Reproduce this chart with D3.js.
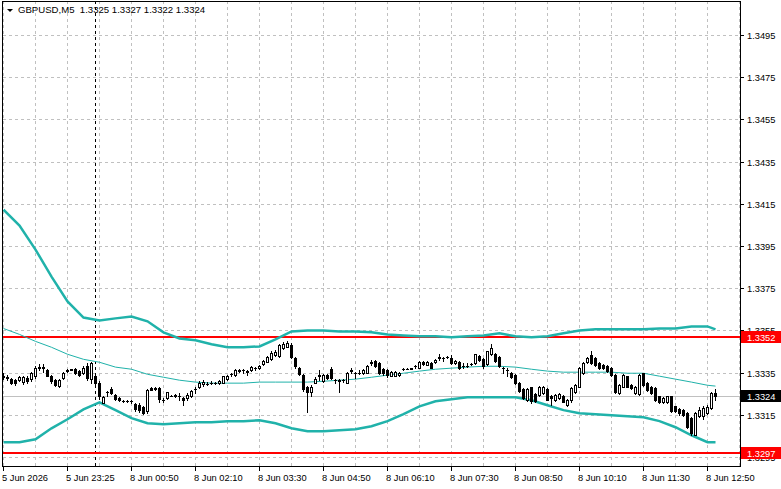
<!DOCTYPE html>
<html>
<head>
<meta charset="utf-8">
<script src="https://cdn.jsdelivr.net/npm/d3@7"></script>
<style>
  body { margin: 0; background: #fff; }
  svg { display: block; font-family: "Liberation Sans", Arial, sans-serif; }
</style>
</head>
<body>
<div id="chart"></div>
<script>
// Symbol / timeframe
const symbol = "GBPUSD,M5";

// 5 minute candles, [open, high, low, close]
const candles = [
  [1.33333,1.33347,1.33319,1.33330],[1.33327,1.33337,1.33316,1.33325],[1.33319,1.33325,1.33295,1.33300],
  [1.33316,1.33320,1.33292,1.33302],[1.33316,1.33335,1.33310,1.33327],[1.33305,1.33335,1.33298,1.33328],
  [1.33326,1.33332,1.33302,1.33308],[1.33319,1.33355,1.33310,1.33347],[1.33332,1.33379,1.33325,1.33370],
  [1.33370,1.33390,1.33360,1.33375],[1.33375,1.33389,1.33355,1.33372],[1.33360,1.33368,1.33332,1.33336],
  [1.33334,1.33338,1.33302,1.33308],[1.33316,1.33320,1.33285,1.33292],[1.33288,1.33320,1.33284,1.33316],
  [1.33325,1.33355,1.33320,1.33350],[1.33358,1.33368,1.33355,1.33360],[1.33363,1.33368,1.33360,1.33365],
  [1.33366,1.33370,1.33342,1.33347],[1.33358,1.33363,1.33332,1.33338],[1.33350,1.33380,1.33345,1.33374],
  [1.33380,1.33395,1.33316,1.33324],[1.33318,1.33402,1.33300,1.33395],[1.33335,1.33345,1.33295,1.33303],
  [1.33300,1.33310,1.33225,1.33237],[1.33208,1.33240,1.33205,1.33235],[1.33256,1.33265,1.33237,1.33259],
  [1.33272,1.33281,1.33250,1.33253],[1.33245,1.33248,1.33220,1.33224],[1.33229,1.33233,1.33215,1.33218],
  [1.33217,1.33219,1.33213,1.33216],[1.33216,1.33220,1.33213,1.33217],[1.33216,1.33218,1.33206,1.33214],
  [1.33202,1.33208,1.33170,1.33179],[1.33198,1.33205,1.33165,1.33174],[1.33189,1.33193,1.33153,1.33158],
  [1.33166,1.33274,1.33158,1.33269],[1.33279,1.33281,1.33266,1.33269],[1.33279,1.33282,1.33267,1.33270],
  [1.33279,1.33282,1.33213,1.33226],[1.33221,1.33230,1.33210,1.33222],[1.33229,1.33260,1.33226,1.33256],
  [1.33240,1.33244,1.33238,1.33241],[1.33242,1.33250,1.33236,1.33240],[1.33240,1.33253,1.33221,1.33241],
  [1.33229,1.33235,1.33198,1.33218],[1.33229,1.33253,1.33222,1.33245],[1.33237,1.33266,1.33234,1.33261],
  [1.33270,1.33282,1.33255,1.33272],[1.33280,1.33308,1.33276,1.33300],[1.33295,1.33315,1.33288,1.33305],
  [1.33294,1.33305,1.33290,1.33296],[1.33300,1.33308,1.33298,1.33301],[1.33300,1.33304,1.33295,1.33299],
  [1.33300,1.33314,1.33297,1.33310],[1.33303,1.33336,1.33300,1.33332],[1.33319,1.33338,1.33316,1.33332],
  [1.33342,1.33350,1.33332,1.33345],[1.33339,1.33368,1.33335,1.33363],[1.33359,1.33365,1.33353,1.33361],
  [1.33362,1.33368,1.33347,1.33364],[1.33355,1.33362,1.33340,1.33358],[1.33360,1.33379,1.33357,1.33375],
  [1.33372,1.33378,1.33363,1.33373],[1.33370,1.33386,1.33367,1.33382],[1.33390,1.33410,1.33386,1.33405],
  [1.33402,1.33430,1.33398,1.33424],[1.33415,1.33450,1.33410,1.33445],[1.33432,1.33455,1.33428,1.33448],
  [1.33430,1.33485,1.33425,1.33481],[1.33465,1.33495,1.33460,1.33486],[1.33473,1.33502,1.33470,1.33489],
  [1.33481,1.33490,1.33420,1.33426],[1.33418,1.33425,1.33370,1.33379],[1.33371,1.33377,1.33340,1.33344],
  [1.33339,1.33343,1.33265,1.33271],[1.33280,1.33286,1.33165,1.33256],[1.33256,1.33290,1.33240,1.33281],
  [1.33303,1.33328,1.33300,1.33320],[1.33335,1.33363,1.33316,1.33338],[1.33308,1.33345,1.33305,1.33339],
  [1.33339,1.33343,1.33320,1.33324],[1.33368,1.33375,1.33320,1.33324],[1.33313,1.33320,1.33300,1.33315],
  [1.33313,1.33318,1.33256,1.33310],[1.33314,1.33322,1.33305,1.33316],[1.33303,1.33352,1.33300,1.33347],
  [1.33358,1.33373,1.33347,1.33360],[1.33346,1.33355,1.33324,1.33348],[1.33348,1.33363,1.33344,1.33350],
  [1.33347,1.33368,1.33342,1.33363],[1.33350,1.33384,1.33347,1.33380],[1.33397,1.33410,1.33386,1.33400],
  [1.33405,1.33410,1.33375,1.33379],[1.33395,1.33400,1.33342,1.33347],[1.33366,1.33370,1.33340,1.33347],
  [1.33363,1.33368,1.33330,1.33339],[1.33336,1.33356,1.33332,1.33352],[1.33336,1.33357,1.33333,1.33352],
  [1.33337,1.33355,1.33333,1.33350],[1.33367,1.33370,1.33364,1.33368],[1.33369,1.33372,1.33366,1.33369],
  [1.33369,1.33373,1.33367,1.33370],[1.33382,1.33386,1.33372,1.33383],[1.33374,1.33406,1.33370,1.33402],
  [1.33402,1.33405,1.33387,1.33390],[1.33387,1.33403,1.33384,1.33399],[1.33395,1.33399,1.33370,1.33374],
  [1.33399,1.33415,1.33396,1.33410],[1.33420,1.33437,1.33412,1.33423],[1.33418,1.33422,1.33405,1.33419],
  [1.33425,1.33430,1.33418,1.33426],[1.33418,1.33435,1.33390,1.33395],[1.33395,1.33410,1.33392,1.33407],
  [1.33402,1.33407,1.33365,1.33371],[1.33380,1.33395,1.33374,1.33382],[1.33380,1.33395,1.33375,1.33381],
  [1.33390,1.33394,1.33387,1.33390],[1.33395,1.33440,1.33392,1.33437],[1.33429,1.33433,1.33406,1.33410],
  [1.33413,1.33418,1.33374,1.33379],[1.33390,1.33454,1.33386,1.33450],[1.33437,1.33485,1.33434,1.33465],
  [1.33439,1.33445,1.33402,1.33407],[1.33426,1.33430,1.33375,1.33379],[1.33370,1.33375,1.33350,1.33372],
  [1.33360,1.33370,1.33332,1.33362],[1.33350,1.33355,1.33323,1.33327],[1.33339,1.33343,1.33296,1.33300],
  [1.33300,1.33305,1.33256,1.33261],[1.33272,1.33276,1.33226,1.33230],[1.33220,1.33278,1.33215,1.33272],
  [1.33280,1.33284,1.33208,1.33216],[1.33248,1.33253,1.33210,1.33216],[1.33245,1.33286,1.33240,1.33282],
  [1.33255,1.33285,1.33250,1.33280],[1.33272,1.33276,1.33218,1.33221],[1.33240,1.33245,1.33198,1.33229],
  [1.33221,1.33250,1.33216,1.33245],[1.33229,1.33255,1.33224,1.33248],[1.33240,1.33245,1.33210,1.33213],
  [1.33198,1.33225,1.33193,1.33221],[1.33218,1.33280,1.33213,1.33276],[1.33256,1.33296,1.33252,1.33292],
  [1.33284,1.33375,1.33280,1.33371],[1.33347,1.33400,1.33343,1.33395],[1.33398,1.33423,1.33394,1.33418],
  [1.33434,1.33450,1.33390,1.33395],[1.33418,1.33425,1.33383,1.33387],[1.33395,1.33400,1.33367,1.33371],
  [1.33386,1.33390,1.33366,1.33371],[1.33382,1.33386,1.33354,1.33358],[1.33371,1.33375,1.33335,1.33339],
  [1.33339,1.33343,1.33252,1.33256],[1.33253,1.33296,1.33249,1.33292],[1.33284,1.33343,1.33280,1.33339],
  [1.33332,1.33336,1.33280,1.33284],[1.33292,1.33296,1.33272,1.33276],[1.33253,1.33288,1.33249,1.33284],
  [1.33248,1.33343,1.33244,1.33339],[1.33347,1.33350,1.33288,1.33292],[1.33300,1.33304,1.33265,1.33269],
  [1.33284,1.33288,1.33249,1.33253],[1.33276,1.33280,1.33214,1.33218],[1.33237,1.33241,1.33206,1.33210],
  [1.33209,1.33233,1.33205,1.33229],[1.33209,1.33241,1.33205,1.33237],[1.33237,1.33241,1.33162,1.33166],
  [1.33190,1.33194,1.33162,1.33166],[1.33179,1.33183,1.33148,1.33158],[1.33174,1.33178,1.33145,1.33150],
  [1.33158,1.33162,1.33088,1.33092],[1.33135,1.33140,1.33053,1.33064],[1.33056,1.33162,1.33052,1.33158],
  [1.33143,1.33185,1.33139,1.33174],[1.33143,1.33190,1.33130,1.33182],[1.33158,1.33195,1.33154,1.33187],
  [1.33182,1.33257,1.33178,1.33253],[1.33252,1.33272,1.33221,1.33240]
];

// Bollinger bands, sampled at these bar numbers
const bandBars = [0,4,8,12,16,20,24,28,32,36,40,44,48,52,56,60,64,68,72,76,80,84,88,92,96,
  100,104,108,112,116,120,124,128,132,136,140,144,148,152,156,160,164,168,172,176,178];
const upperBand = [1.34122,1.34047,1.33933,1.33805,1.33687,1.33611,1.33597,1.33607,1.33616,1.33593,
  1.33541,1.33512,1.33503,1.33484,1.33470,1.33470,1.33474,1.33507,1.33545,1.33550,1.33550,1.33545,
  1.33545,1.33541,1.33531,1.33526,1.33522,1.33522,1.33517,1.33522,1.33526,1.33536,1.33522,1.33517,
  1.33522,1.33536,1.33550,1.33555,1.33555,1.33555,1.33555,1.33559,1.33559,1.33569,1.33569,1.33555];
const middleBand = [1.33559,1.33531,1.33498,1.33470,1.33437,1.33413,1.33399,1.33376,1.33366,1.33342,
  1.33328,1.33314,1.33305,1.33300,1.33300,1.33300,1.33305,1.33305,1.33305,1.33305,1.33309,1.33314,
  1.33319,1.33328,1.33338,1.33347,1.33357,1.33366,1.33371,1.33376,1.33380,1.33380,1.33376,1.33366,
  1.33357,1.33352,1.33352,1.33352,1.33352,1.33347,1.33347,1.33333,1.33319,1.33305,1.33290,1.33286];
const lowerBand = [1.33020,1.33020,1.33034,1.33086,1.33129,1.33176,1.33209,1.33172,1.33134,1.33110,
  1.33105,1.33110,1.33115,1.33115,1.33120,1.33120,1.33124,1.33110,1.33086,1.33072,1.33072,1.33077,
  1.33082,1.33096,1.33120,1.33153,1.33190,1.33214,1.33224,1.33233,1.33233,1.33233,1.33233,1.33219,
  1.33195,1.33172,1.33157,1.33153,1.33148,1.33143,1.33138,1.33120,1.33091,1.33053,1.33020,1.33020];

// Axes
const priceTicks = [1.3495,1.3475,1.3455,1.3435,1.3415,1.3395,1.3375,1.3355,1.3335,1.3315,1.3295];
const timeLabels = ["5 Jun 2026","5 Jun 23:25","8 Jun 00:50","8 Jun 02:10","8 Jun 03:30","8 Jun 04:50",
  "8 Jun 06:10","8 Jun 07:30","8 Jun 08:50","8 Jun 10:10","8 Jun 11:30","8 Jun 12:50"];
const timeLabelBars = [0,16,32,48,64,80,96,112,128,144,160,176];
const gridBars = [0,8,16,24,32,40,48,56,64,72,80,88,96,104,112,120,128,136,144,152,160,168,176,184];

// Horizontal levels and day separator
const levels = [1.3352, 1.3297];
const separatorBars = [23];

const W = 781, H = 489;
const plotL = 3, plotR = 740, plotT = 1, plotB = 467;

const x = d3.scaleLinear().domain([0, 184.25]).range([plotL, plotR]);
const y = d3.scaleLinear().domain([1.3295, 1.3495]).range([457, 35]);
const px = i => Math.round(x(i));
const py = p => Math.round(y(p));

const svg = d3.select("#chart").append("svg")
  .attr("width", W).attr("height", H)
  .attr("shape-rendering", "crispEdges");

svg.append("defs").append("clipPath").attr("id", "clip")
  .append("rect").attr("x", plotL).attr("y", plotT).attr("width", plotR - plotL).attr("height", plotB - plotT);

const plot = svg.append("g").attr("clip-path", "url(#clip)");

// grid
plot.selectAll(".hgrid").data(priceTicks).join("line")
  .attr("x1", plotL).attr("x2", plotR)
  .attr("y1", d => py(d) + 0.5).attr("y2", d => py(d) + 0.5)
  .attr("stroke", "#c0c0c0").attr("stroke-dasharray", "3,3");
plot.selectAll(".vgrid").data(gridBars).join("line")
  .attr("x1", d => px(d) + 0.5).attr("x2", d => px(d) + 0.5)
  .attr("y1", plotT).attr("y2", plotB)
  .attr("stroke", "#c0c0c0").attr("stroke-dasharray", "3,3");

// period separator
plot.selectAll(".sep").data(separatorBars).join("line")
  .attr("x1", d => px(d) + 0.5).attr("x2", d => px(d) + 0.5)
  .attr("y1", plotT).attr("y2", plotB)
  .attr("stroke", "#000").attr("stroke-dasharray", "3,3");

// bid line
const last = candles[candles.length - 1];
plot.append("line")
  .attr("x1", plotL).attr("x2", plotR)
  .attr("y1", py(last[3]) + 0.5).attr("y2", py(last[3]) + 0.5)
  .attr("stroke", "#c0c0c0");

// red levels
plot.selectAll(".level").data(levels).join("line")
  .attr("x1", plotL).attr("x2", plotR)
  .attr("y1", d => py(d)).attr("y2", d => py(d))
  .attr("stroke", "#ff0000").attr("stroke-width", 2);

// bands
const bandLine = vals => d3.line()
  .x((d, i) => x(bandBars[i]) + 0.5)
  .y(d => y(d))(vals);
[[upperBand, 2.5], [middleBand, 1], [lowerBand, 2.5]].forEach(([vals, w]) => {
  plot.append("path")
    .attr("d", bandLine(vals))
    .attr("fill", "none")
    .attr("stroke", "#20b2aa")
    .attr("stroke-width", w)
    .attr("shape-rendering", "auto");
});

// candles
const cg = plot.selectAll(".candle").data(candles).join("g");
cg.append("line")
  .attr("x1", (d, i) => px(i) + 0.5).attr("x2", (d, i) => px(i) + 0.5)
  .attr("y1", d => py(d[1])).attr("y2", d => py(d[2]) + 1)
  .attr("stroke", "#000");
cg.each(function (d, i) {
  const g = d3.select(this);
  const X = px(i);
  const yo = py(d[0]), yc = py(d[3]);
  const t = Math.min(yo, yc), h = Math.abs(yo - yc);
  if (h === 0) {
    g.append("line").attr("x1", X - 1).attr("x2", X + 2)
      .attr("y1", t + 0.5).attr("y2", t + 0.5).attr("stroke", "#000");
  } else if (d[3] > d[0]) {
    g.append("rect").attr("x", X - 0.5).attr("y", t + 0.5)
      .attr("width", 2).attr("height", h)
      .attr("fill", "#fff").attr("stroke", "#000");
  } else {
    g.append("rect").attr("x", X - 1).attr("y", t)
      .attr("width", 3).attr("height", h + 1)
      .attr("fill", "#000");
  }
});

// frame
svg.append("rect")
  .attr("x", plotL - 0.5).attr("y", plotT + 0.5)
  .attr("width", plotR - plotL + 1).attr("height", plotB - plotT - 1)
  .attr("fill", "none").attr("stroke", "#000");

// price axis
const pa = svg.append("g");
pa.selectAll("line").data(priceTicks).join("line")
  .attr("x1", plotR).attr("x2", plotR + 4)
  .attr("y1", d => py(d) + 0.5).attr("y2", d => py(d) + 0.5)
  .attr("stroke", "#000");
pa.selectAll("text").data(priceTicks).join("text")
  .attr("x", 747).attr("y", d => py(d) + 3.5)
  .attr("font-size", 9.3).attr("fill", "#000")
  .text(d => d.toFixed(4));

// price labels for levels and bid
const tags = levels.map(v => ({ v: v, bg: "#ff0000" })).concat([{ v: last[3], bg: "#000" }]);
const tg = svg.selectAll(".tag").data(tags).join("g");
tg.append("rect")
  .attr("x", plotR + 1).attr("y", d => py(d.v) - 6)
  .attr("width", W - plotR - 1).attr("height", 12)
  .attr("fill", d => d.bg);
tg.append("text")
  .attr("x", 747).attr("y", d => py(d.v) + 3.5)
  .attr("font-size", 9.3).attr("fill", "#fff")
  .text(d => d.v.toFixed(4));

// time axis
const ta = svg.append("g");
ta.selectAll("line").data(timeLabelBars).join("line")
  .attr("x1", d => px(d) + 0.5).attr("x2", d => px(d) + 0.5)
  .attr("y1", plotB).attr("y2", plotB + 4)
  .attr("stroke", "#000");
ta.selectAll("text").data(timeLabels).join("text")
  .attr("x", (d, i) => px(timeLabelBars[i]) - 1).attr("y", 481)
  .attr("font-size", 9.3).attr("fill", "#000")
  .text(d => d);

// title
svg.append("path").attr("d", "M7,9 L13,9 L10,12 Z").attr("fill", "#000").attr("shape-rendering", "auto");
svg.append("text")
  .attr("x", 18).attr("y", 13)
  .attr("font-size", 9.6).attr("fill", "#000")
  .style("white-space", "pre")
  .text(symbol + "  " + last.map(v => v.toFixed(4)).join(" "));
</script>
</body>
</html>
